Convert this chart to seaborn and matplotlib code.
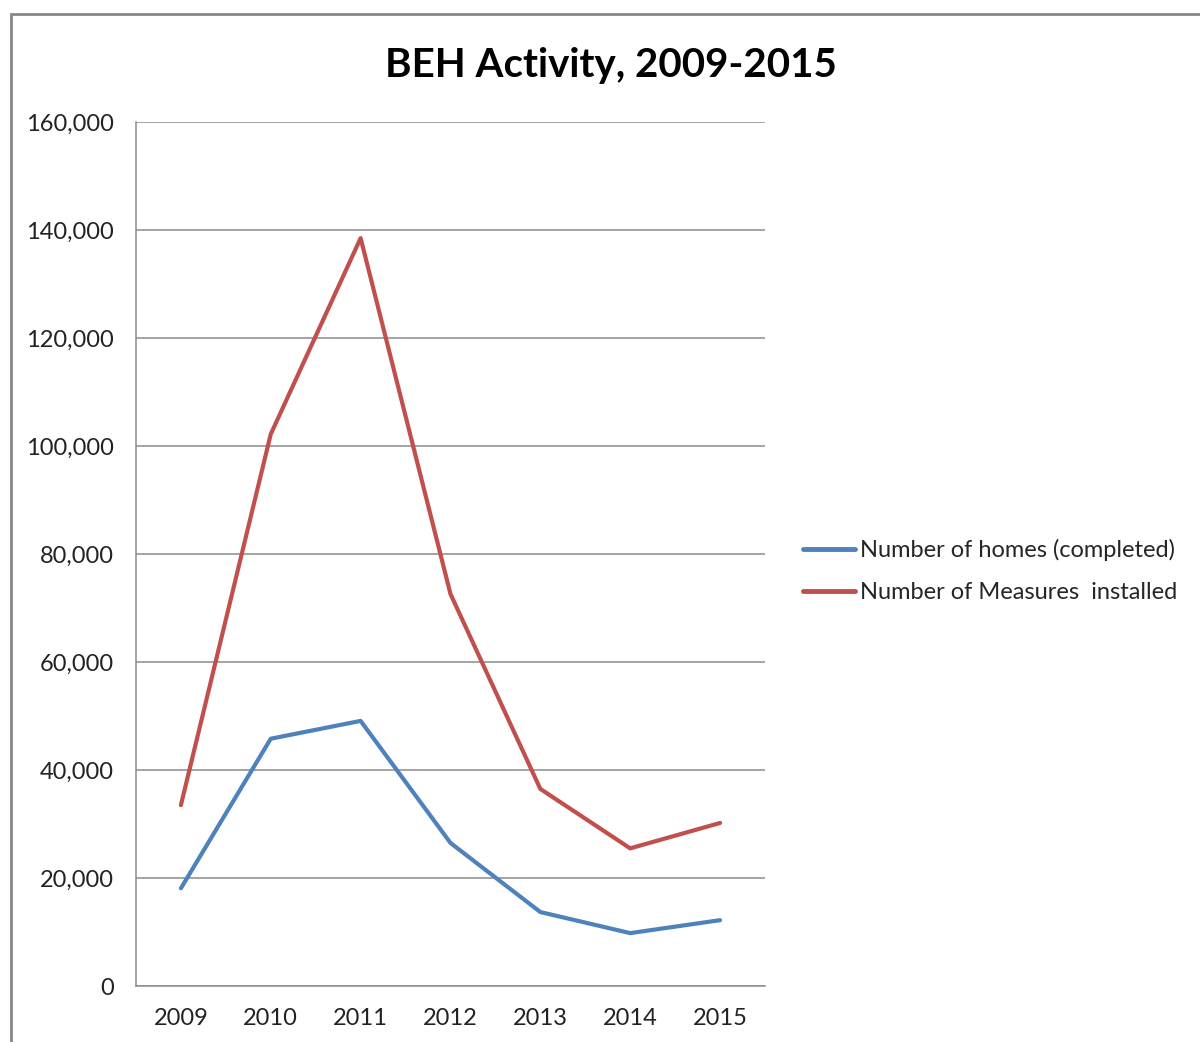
import matplotlib
matplotlib.use("Agg")
import matplotlib.pyplot as plt
import pandas as pd
import seaborn as sns
from matplotlib.patches import Rectangle
from matplotlib.ticker import FuncFormatter

# Values
years = [2009, 2010, 2011, 2012, 2013, 2014, 2015]
homes_completed = [18100, 45800, 49100, 26500, 13700, 9800, 12200]
measures_installed = [33500, 102200, 138500, 72600, 36500, 25500, 30200]
series_names = ["Number of homes (completed)", "Number of Measures  installed"]
series_colors = ["#4F81BD", "#C0504D"]

df = pd.concat([
    pd.DataFrame({"year": years, "value": homes_completed, "series": series_names[0]}),
    pd.DataFrame({"year": years, "value": measures_installed, "series": series_names[1]}),
])

sns.set_style("white")
plt.rcParams["font.family"] = ["Lato", "DejaVu Sans"]

fig = plt.figure(figsize=(12, 10.42), dpi=100)
ax = fig.add_axes([0.1133, 0.0537, 0.5242, 0.8292])

sns.lineplot(data=df, x="year", y="value", hue="series", palette=series_colors,
             hue_order=series_names, lw=3.0, ax=ax, legend=True)

ax.set_xlim(years[0] - 0.5, years[-1] + 0.5)
ax.set_ylim(0, 160000)
ax.set_xticks(years)
ax.set_yticks(range(0, 160001, 20000))
ax.yaxis.set_major_formatter(FuncFormatter(lambda v, _: f"{int(v):,}"))
ax.tick_params(axis="both", length=0, labelsize=17, colors="#222222")
ax.tick_params(axis="y", pad=16)
ax.tick_params(axis="x", pad=16)
ax.grid(axis="y", color="#8c8c8c", lw=1.1)
ax.set_axisbelow(True)
ax.set_xlabel("")
ax.set_ylabel("")
for side in ["top", "right"]:
    ax.spines[side].set_visible(False)
for side in ["left", "bottom"]:
    ax.spines[side].set_color("#8c8c8c")
    ax.spines[side].set_linewidth(1.1)

leg = ax.legend(loc="center left", bbox_to_anchor=(1.026, 0.48), frameon=False,
                fontsize=17, handlelength=2.2, handletextpad=0.25, labelspacing=0.9)
for line in leg.get_lines():
    line.set_linewidth(3.5)

fig.text(0.509, 0.9376, "BEH Activity, 2009-2015", ha="center", va="center",
         fontsize=29, fontweight="bold", color="black")

# chart frame
fig.patches.append(Rectangle((11 / 1200, -0.05), 1.2, 1 - 14 / 1042 + 0.05,
                             transform=fig.transFigure, fill=False,
                             edgecolor="#888888", lw=2))

fig.savefig("out.png", dpi=100)
